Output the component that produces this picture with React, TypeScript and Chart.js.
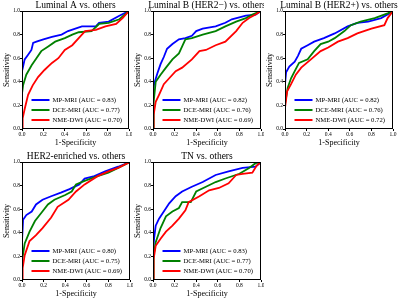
import React, { useEffect, useRef } from 'react';
import { Chart, registerables } from 'chart.js';

Chart.register(...registerables);

const FONT = '"Liberation Serif", "Times New Roman", serif';

const TITLES = [
  'Luminal A vs. others',
  'Luminal B (HER2\u2212) vs. others',
  'Luminal B (HER2+) vs. others',
  'HER2-enriched vs. others',
  'TN vs. others',
];
const MODELS = ['MP-MRI', 'DCE-MRI', 'NME-DWI'];
const COLORS = ['#0000ff', '#008000', '#ff0000'];
const TICKS = [0, 0.2, 0.4, 0.6, 0.8, 1.0];
const X_LABEL = '1-Specificity';
const Y_LABEL = 'Sensitivity';

const AUC_LUMA = [0.83, 0.77, 0.7];
const AUC_LUMB_NEG = [0.82, 0.76, 0.69];
const AUC_LUMB_POS = [0.82, 0.76, 0.72];
const AUC_HER2 = [0.8, 0.75, 0.69];
const AUC_TN = [0.83, 0.77, 0.7];

// [1-specificity, sensitivity]
const LUMA_MP = [[0,0],[0,0.49],[0.01,0.53],[0.025,0.59],[0.057,0.63],[0.088,0.67],[0.104,0.73],[0.135,0.74],[0.2,0.76],[0.28,0.78],[0.37,0.8],[0.43,0.83],[0.56,0.87],[0.69,0.87],[0.72,0.9],[0.81,0.91],[0.91,0.96],[1,1]];
const LUMA_DCE = [[0,0],[0,0.3],[0.01,0.37],[0.04,0.46],[0.09,0.54],[0.135,0.6],[0.18,0.66],[0.245,0.7],[0.31,0.74],[0.4,0.77],[0.47,0.8],[0.53,0.82],[0.65,0.83],[0.72,0.89],[0.81,0.9],[0.91,0.93],[1,1]];
const LUMA_NME = [[0,0],[0.006,0.09],[0.025,0.17],[0.057,0.29],[0.1,0.37],[0.15,0.44],[0.21,0.5],[0.28,0.56],[0.34,0.6],[0.4,0.67],[0.47,0.71],[0.53,0.77],[0.59,0.83],[0.69,0.84],[0.78,0.87],[0.88,0.89],[0.94,0.94],[1,1]];

const LUMBN_MP = [[0,0],[0,0.32],[0.01,0.38],[0.04,0.47],[0.07,0.55],[0.1,0.61],[0.13,0.68],[0.18,0.72],[0.24,0.76],[0.3,0.77],[0.36,0.79],[0.4,0.83],[0.46,0.85],[0.58,0.87],[0.67,0.9],[0.73,0.93],[0.86,0.96],[0.95,0.97],[1,1]];
const LUMBN_DCE = [[0,0],[0.006,0.23],[0.025,0.4],[0.07,0.46],[0.12,0.52],[0.18,0.59],[0.24,0.64],[0.27,0.7],[0.3,0.76],[0.36,0.77],[0.46,0.8],[0.58,0.83],[0.67,0.87],[0.77,0.91],[0.86,0.94],[0.92,0.97],[1,1]];
const LUMBN_NME = [[0,0],[0.006,0.12],[0.025,0.23],[0.056,0.29],[0.1,0.38],[0.15,0.43],[0.21,0.49],[0.27,0.52],[0.36,0.59],[0.43,0.66],[0.49,0.67],[0.58,0.71],[0.67,0.74],[0.77,0.83],[0.83,0.9],[0.89,0.94],[0.95,0.97],[1,1]];

const LUMBP_MP = [[0,0],[0,0.38],[0.01,0.48],[0.04,0.53],[0.09,0.57],[0.12,0.62],[0.15,0.68],[0.21,0.71],[0.27,0.74],[0.36,0.77],[0.46,0.81],[0.58,0.87],[0.67,0.9],[0.77,0.91],[0.89,0.94],[0.95,0.97],[1,1]];
const LUMBP_DCE = [[0,0],[0,0.21],[0.025,0.35],[0.056,0.43],[0.09,0.49],[0.13,0.56],[0.21,0.59],[0.27,0.66],[0.33,0.72],[0.4,0.74],[0.46,0.77],[0.55,0.83],[0.61,0.88],[0.7,0.91],[0.83,0.94],[0.95,0.98],[1,1]];
const LUMBP_NME = [[0,0],[0,0.18],[0.02,0.32],[0.056,0.38],[0.1,0.46],[0.15,0.52],[0.24,0.59],[0.33,0.66],[0.4,0.69],[0.49,0.74],[0.58,0.77],[0.67,0.81],[0.8,0.85],[0.92,0.88],[0.95,0.94],[1,1]];

const HER2_MP = [[0,0],[0,0.33],[0.01,0.51],[0.04,0.55],[0.09,0.58],[0.13,0.64],[0.19,0.68],[0.27,0.71],[0.36,0.74],[0.44,0.77],[0.53,0.81],[0.58,0.86],[0.67,0.88],[0.77,0.92],[0.89,0.96],[1,1]];
const HER2_DCE = [[0,0],[0,0.16],[0.025,0.31],[0.07,0.41],[0.12,0.5],[0.18,0.57],[0.24,0.64],[0.3,0.68],[0.4,0.72],[0.46,0.75],[0.5,0.81],[0.58,0.84],[0.7,0.88],[0.8,0.91],[0.89,0.95],[1,1]];
const HER2_NME = [[0,0],[0.006,0.1],[0.025,0.21],[0.07,0.33],[0.13,0.38],[0.19,0.44],[0.27,0.53],[0.33,0.62],[0.43,0.68],[0.5,0.75],[0.58,0.81],[0.7,0.88],[0.8,0.92],[0.89,0.95],[1,1]];

const TN_MP = [[0,0],[0,0.24],[0.01,0.35],[0.025,0.46],[0.056,0.52],[0.1,0.58],[0.15,0.65],[0.21,0.71],[0.27,0.75],[0.36,0.79],[0.46,0.83],[0.58,0.89],[0.7,0.92],[0.83,0.95],[0.95,0.96],[1,1]];
const TN_DCE = [[0,0],[0.006,0.21],[0.025,0.32],[0.07,0.44],[0.12,0.54],[0.18,0.58],[0.24,0.61],[0.27,0.66],[0.35,0.66],[0.4,0.75],[0.49,0.79],[0.58,0.83],[0.67,0.86],[0.8,0.9],[0.89,0.95],[0.95,0.99],[1,1]];
const TN_NME = [[0,0],[0.006,0.18],[0.025,0.29],[0.07,0.35],[0.12,0.41],[0.18,0.46],[0.24,0.52],[0.3,0.59],[0.33,0.66],[0.43,0.71],[0.52,0.76],[0.61,0.78],[0.7,0.82],[0.77,0.89],[0.83,0.9],[0.92,0.91],[0.96,0.97],[1,1]];

const PANELS = [
  { title: TITLES[0], auc: AUC_LUMA, curves: [LUMA_MP, LUMA_DCE, LUMA_NME], left: 0, top: 0, width: 132, padRight: 3 },
  { title: TITLES[1], auc: AUC_LUMB_NEG, curves: [LUMBN_MP, LUMBN_DCE, LUMBN_NME], left: 131, top: 0, width: 133, padRight: 3 },
  { title: TITLES[2], auc: AUC_LUMB_POS, curves: [LUMBP_MP, LUMBP_DCE, LUMBP_NME], left: 263, top: 0, width: 137, padRight: 7 },
  { title: TITLES[3], auc: AUC_HER2, curves: [HER2_MP, HER2_DCE, HER2_NME], left: 0, top: 151, width: 133, padRight: 3 },
  { title: TITLES[4], auc: AUC_TN, curves: [TN_MP, TN_DCE, TN_NME], left: 131, top: 151, width: 133, padRight: 3 },
];

const decorPlugin = {
  id: 'rocDecor',
  afterDraw(chart: any) {
    const { ctx, chartArea } = chart;
    const { left, right, top, bottom } = chartArea;
    const cx = (left + right) / 2;
    const cy = (top + bottom) / 2;
    ctx.save();
    // frame
    ctx.strokeStyle = '#000';
    ctx.lineWidth = 1;
    ctx.strokeRect(left + 0.5, top + 0.5, right - left - 1, bottom - top - 1);
    ctx.fillStyle = '#000';
    ctx.textAlign = 'center';
    ctx.textBaseline = 'middle';
    // title
    ctx.font = `9.5px ${FONT}`;
    ctx.fillText(chart.options.plugins.rocDecor.title, cx, top - 6);
    // axis titles
    ctx.font = `8px ${FONT}`;
    ctx.fillText(X_LABEL, cx, bottom + 14);
    ctx.save();
    ctx.translate(left - 15.5, cy);
    ctx.rotate(-Math.PI / 2);
    ctx.fillText(Y_LABEL, 0, 0);
    ctx.restore();
    // legend
    ctx.font = `6.7px ${FONT}`;
    ctx.textAlign = 'left';
    chart.data.datasets.forEach((ds: any, i: number) => {
      const y = bottom - 29 + i * 10;
      const x0 = left + 9.5;
      ctx.strokeStyle = ds.borderColor;
      ctx.lineWidth = 2;
      ctx.beginPath();
      ctx.moveTo(x0, y);
      ctx.lineTo(x0 + 18, y);
      ctx.stroke();
      ctx.fillStyle = '#000';
      ctx.fillText(ds.label, x0 + 21, y + 0.5);
    });
    ctx.restore();
  },
};

function fixX(scale: any) {
  scale.height = 21;
  scale.paddingLeft = 0;
  scale.paddingRight = 0;
  scale.paddingTop = 0;
  scale.paddingBottom = 0;
}
function fixY(scale: any) {
  scale.width = 22;
  scale.paddingLeft = 0;
  scale.paddingRight = 0;
  scale.paddingTop = 0;
  scale.paddingBottom = 0;
}

function Panel({ panel }: { panel: any }) {
  const ref = useRef<HTMLCanvasElement | null>(null);
  useEffect(() => {
    if (!ref.current) return;
    const axis = (isX: boolean) => ({
      type: 'linear',
      min: 0,
      max: 1,
      afterBuildTicks: (s: any) => {
        s.ticks = TICKS.map((v) => ({ value: v }));
      },
      afterFit: isX ? fixX : fixY,
      grid: {
        drawOnChartArea: false,
        drawTicks: true,
        tickLength: 2,
        tickColor: '#000',
        color: '#000',
      },
      border: { display: false },
      ticks: {
        padding: 0,
        color: '#000',
        font: { size: 5.5, family: FONT },
        maxRotation: 0,
        autoSkip: false,
        callback: (v: any) => Number(v).toFixed(1),
      },
      title: { display: false },
    });
    const chart = new Chart(ref.current, {
      type: 'scatter',
      data: {
        datasets: panel.curves.map((c: number[][], i: number) => ({
          label: `${MODELS[i]} (AUC = ${panel.auc[i].toFixed(2)})`,
          data: c.map(([x, y]) => ({ x, y })),
          showLine: true,
          borderColor: COLORS[i],
          backgroundColor: COLORS[i],
          borderWidth: 1.8,
          pointRadius: 0,
          tension: 0,
          order: 3 - i,
        })),
      },
      options: {
        animation: false,
        responsive: false,
        maintainAspectRatio: false,
        layout: { padding: { top: 11, right: panel.padRight, left: 0, bottom: 0 } },
        scales: { x: axis(true) as any, y: axis(false) as any },
        plugins: {
          legend: { display: false },
          tooltip: { enabled: false },
          title: { display: false },
          rocDecor: { title: panel.title },
        } as any,
      },
      plugins: [decorPlugin],
    });
    return () => chart.destroy();
  }, [panel]);
  return (
    <canvas
      ref={ref}
      width={panel.width}
      height={150}
      style={{ position: 'absolute', left: panel.left, top: panel.top, width: panel.width, height: 150 }}
    />
  );
}

export default function App() {
  return (
    <div style={{ position: 'fixed', left: 0, top: 0, width: 400, height: 300, overflow: 'hidden', background: '#fff' }}>
      {PANELS.map((p, i) => (
        <Panel key={i} panel={p} />
      ))}
    </div>
  );
}
